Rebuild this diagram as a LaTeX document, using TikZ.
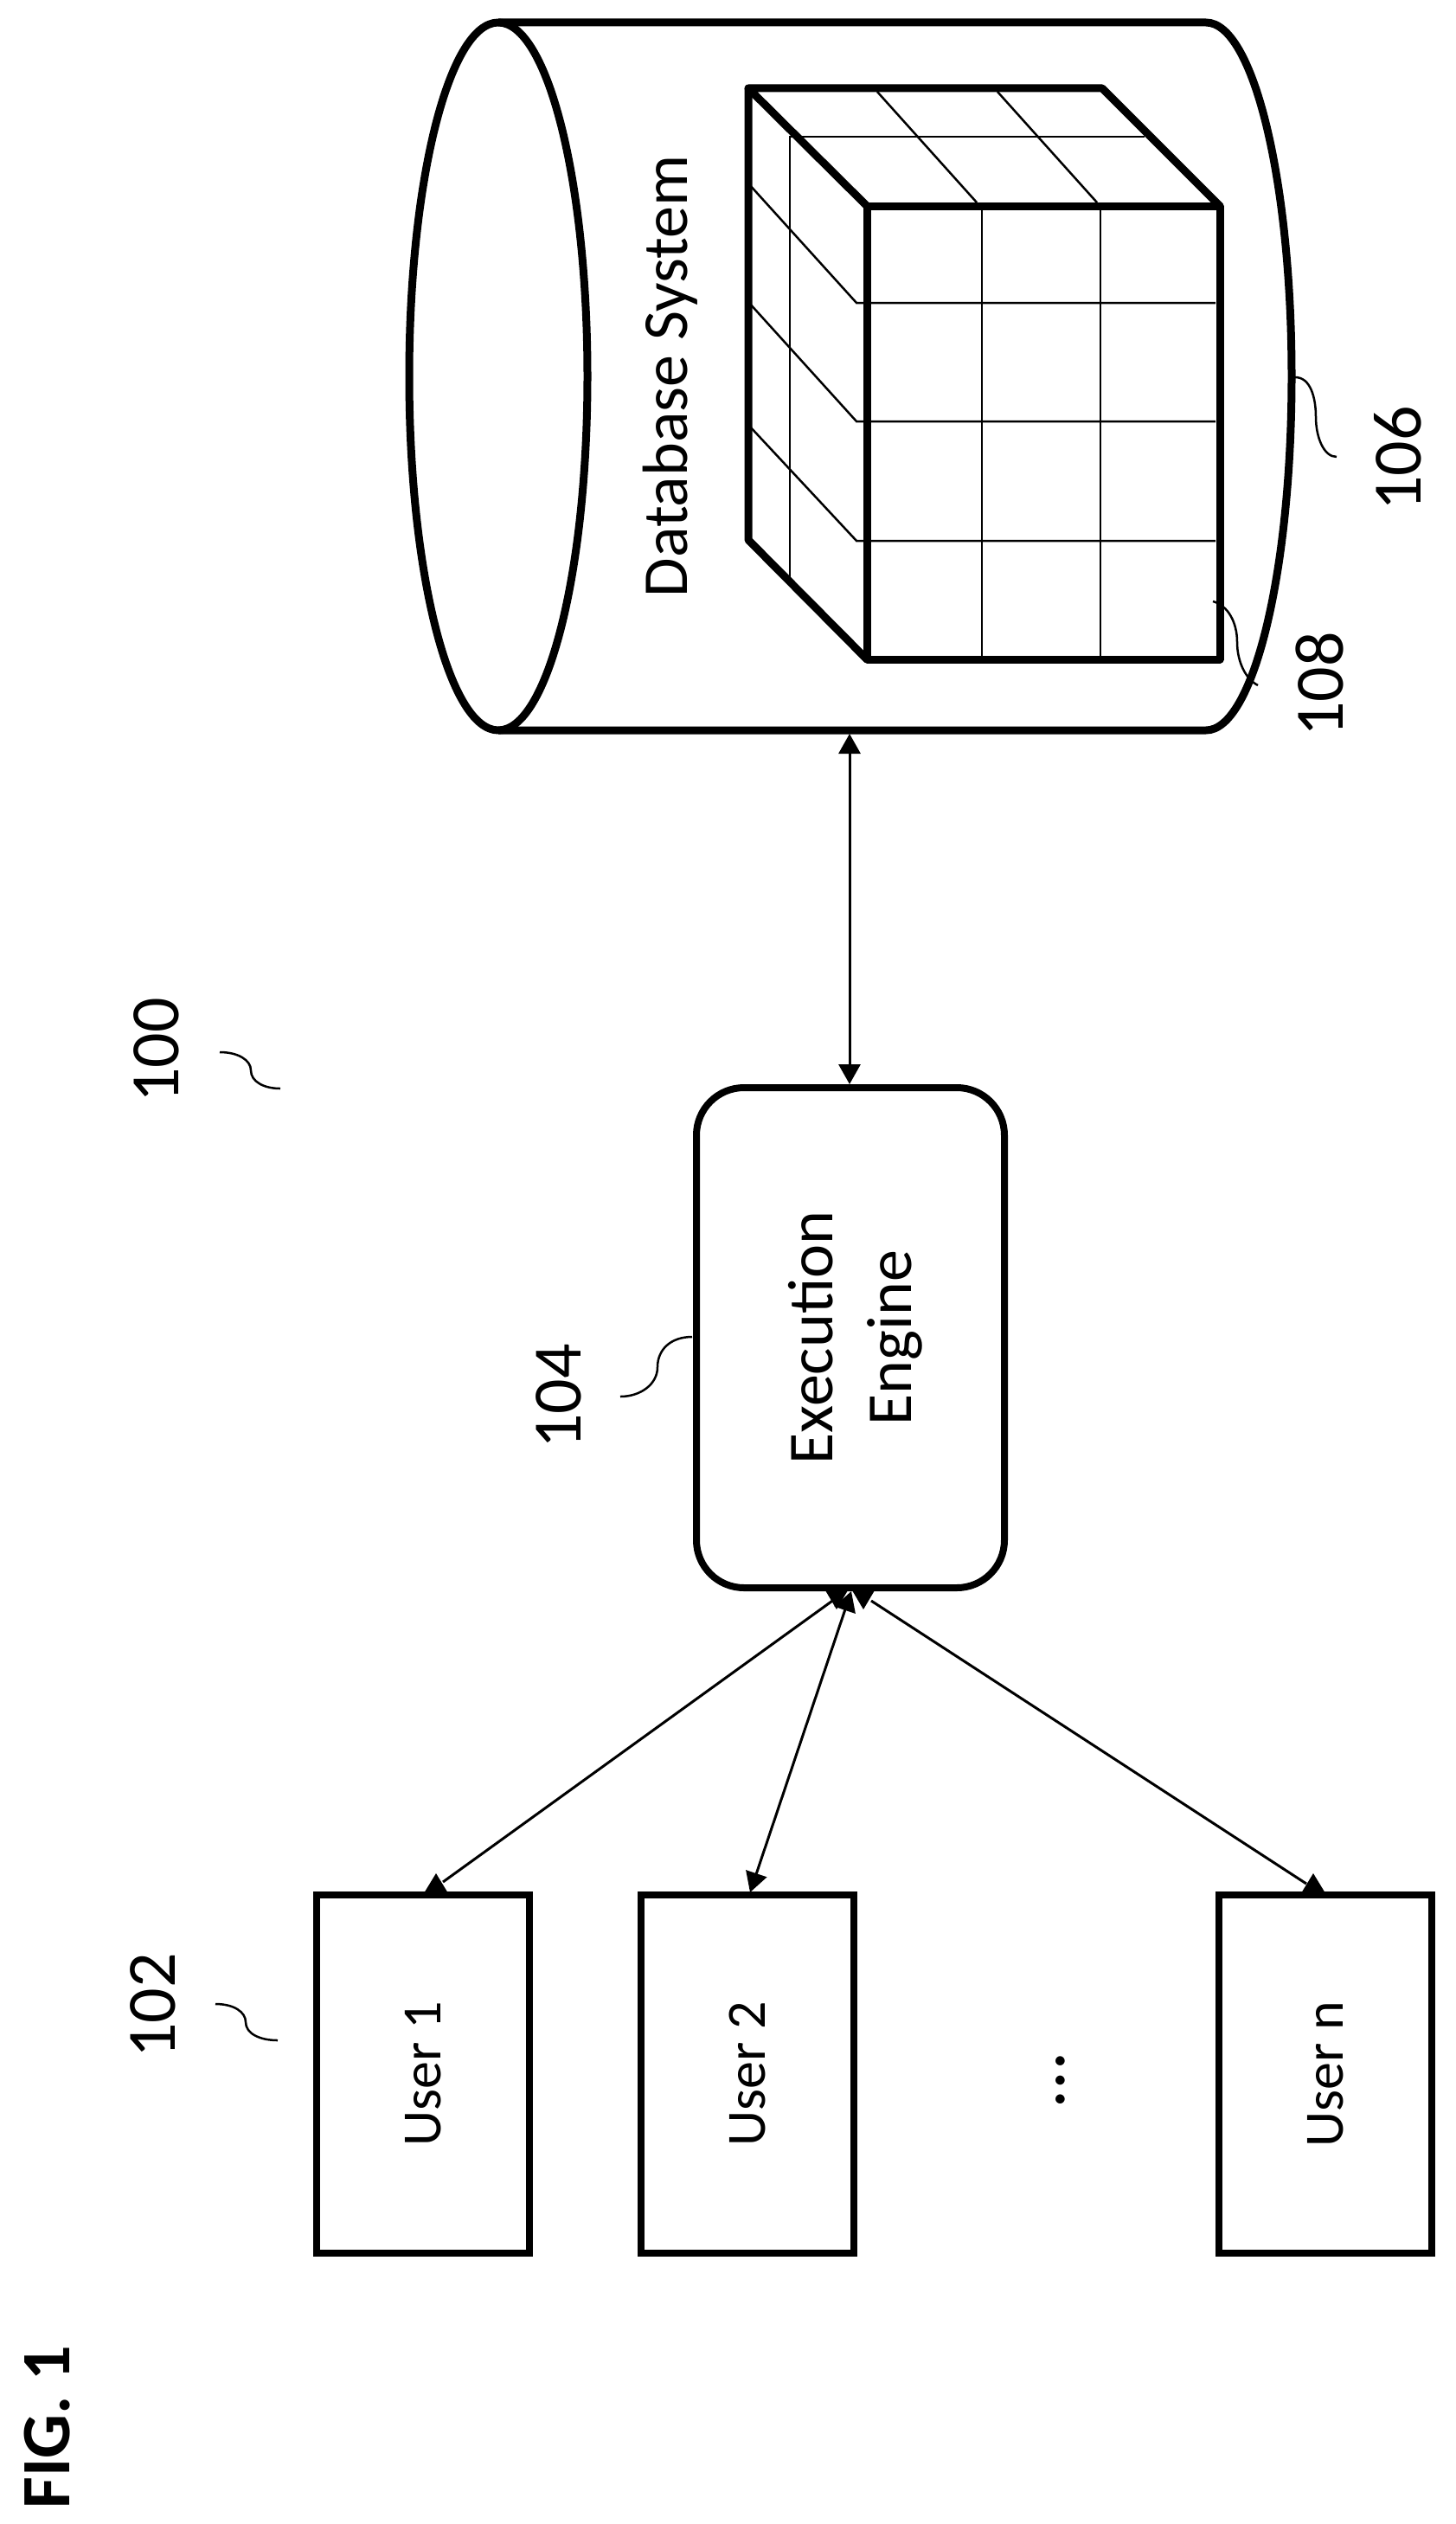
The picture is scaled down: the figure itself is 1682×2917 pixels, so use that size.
\documentclass[tikz,border=0pt]{standalone}
\usepackage{fontspec}
\setmainfont{Carlito}
\usetikzlibrary{arrows.meta}
\tikzset{
    boxed/.style={draw,line width=8pt,outer sep=0pt,minimum width=246pt,minimum height=414pt,anchor=north west,inner sep=0pt},
    lbl/.style={rotate=90,font=\fontsize{80}{80}\selectfont},
    txt/.style={rotate=90,font=\fontsize{64}{64}\selectfont},
    bigtxt/.style={rotate=90,font=\fontsize{74}{91}\selectfont},
    leader/.style={line width=2.5pt},
    conn/.style={line width=3pt},
    both/.style={{Triangle[length=23pt,width=25pt]}-{Triangle[length=23pt,width=25pt]}},
    grid/.style={line width=2.5pt},
    heavy/.style={line width=9pt,line join=round}
}
\begin{document}
\begin{tikzpicture}[x=1pt,y=-1pt]
    \useasboundingbox (0,0) rectangle (1682,2917);
    % cylinder
    \draw[heavy] (576,435) ellipse [x radius=103,y radius=409];
    \draw[heavy] (576,26) -- (1394,26) arc [start angle=-90,end angle=90,x radius=99,y radius=409] -- (576,844);
    \node[bigtxt] (dbtext) at (775,435) {Database System};
    % cube
    \draw[heavy] (1002,238) rectangle (1410,762);
    \draw[heavy] (1002,238) -- (865,102) -- (1274,102) -- (1410,238);
    \draw[heavy] (865,102) -- (865,624) -- (1002,762);
    \foreach \i in {1135,1272}
    {
        \draw[grid] (\i,238) -- (\i,762);
    }
    \foreach \j/\k in {350/212,487/349,625/491}
    {
        \draw[grid] (865,\k) -- (990,\j) -- (1405,\j);
    }
    \draw[grid] (913,669) -- (913,158) -- (1323,158);
    \draw[grid] (1014,106) -- (1129,234);
    \draw[grid] (1153,106) -- (1268,234);
    % users and engine
    \node[boxed] (user1) at (366,2190) {};
    \node[boxed] (user2) at (741,2190) {};
    \node[boxed] (usern) at (1409,2190) {};
    \node[txt] at (user1.center) {User 1};
    \node[txt] at (user2.center) {User 2};
    \node[txt] at (usern.center) {User n};
    \node[rotate=90,font=\fontsize{88}{88}\selectfont] (dots) at (1226,2404) {\dots};
    \node[draw,line width=8pt,outer sep=0pt,rounded corners=55pt,minimum width=356pt,minimum height=578pt,inner sep=0pt] (engine) at (983,1546) {};
    \node[bigtxt,align=center] (enginetext) at (989,1546) {Execution\\Engine};
    % connectors
    \coordinate (dbport) at (982,848);
    \coordinate (enginetop) at (982,1253);
    \draw[conn,both] (dbport) -- (enginetop);
    \coordinate (p1) at (967,1860);
    \coordinate (p2) at (984,1839);
    \coordinate (p3) at (998,1860);
    \coordinate (u1head) at (504,2165);
    \coordinate (u2top) at (867,2187);
    \coordinate (unhead) at (1518,2165);
    \draw[conn] (965,1848) -- (512,2175);
    \draw[conn,both] (p2) -- (u2top);
    \draw[conn] (1007,1850) -- (1510,2177);
    \foreach \h in {p1,p3}
    {
        \fill (\h) -- ++(-13,-22) -- ++(26,0) -- cycle;
    }
    \foreach \h in {u1head,unhead}
    {
        \fill (\h) -- ++(-14,23) -- ++(28,0) -- cycle;
    }
    % reference numbers
    \node[lbl] (n100) at (181,1214) {100};
    \node[lbl] (n102) at (177,2318) {102};
    \node[lbl] (n104) at (646,1614) {104};
    \node[lbl] (n106) at (1616,530) {106};
    \node[lbl] (n108) at (1525,791) {108};
    \node[rotate=90,font=\fontsize{80}{80}\selectfont\bfseries] (fig) at (55,2805) {FIG. 1};
    \draw[leader] (1497,436) .. controls (1515,436) and (1521,460) .. (1521,482) .. controls (1521,505) and (1530,528) .. (1545,528);
    \draw[leader] (1402,695) .. controls (1420,700) and (1430,720) .. (1430,742) .. controls (1430,765) and (1440,785) .. (1454,792);
    \draw[leader] (249,2316) .. controls (270,2316) and (284,2325) .. (284,2337) .. controls (284,2350) and (300,2358) .. (321,2358);
    \draw[leader] (254,1216) .. controls (275,1216) and (290,1225) .. (290,1237) .. controls (290,1250) and (305,1258) .. (324,1258);
    \draw[leader] (800,1545) .. controls (775,1545) and (760,1560) .. (760,1580) .. controls (760,1600) and (740,1614) .. (717,1614);
\end{tikzpicture}
\end{document}
